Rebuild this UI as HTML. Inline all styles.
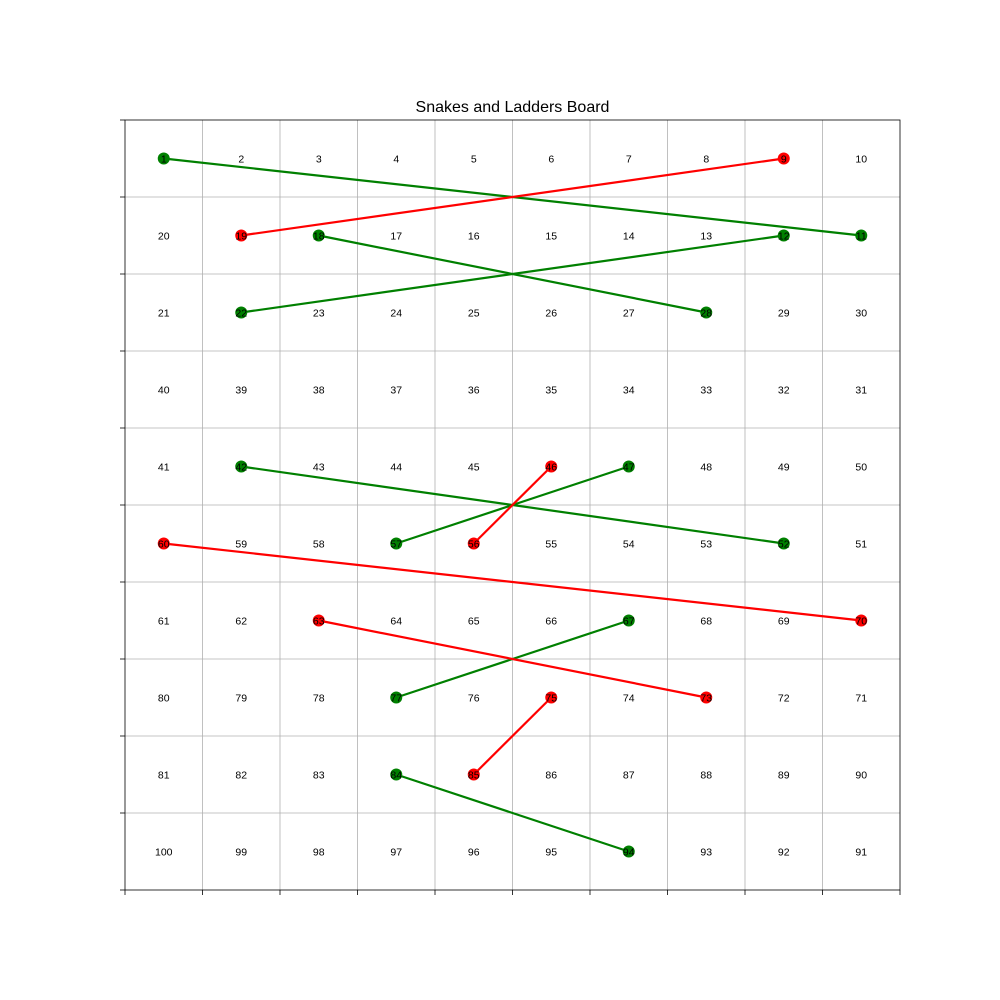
<!DOCTYPE html>
<html><head><meta charset="utf-8">
<style>
html,body{margin:0;padding:0;background:#fff;}
svg{display:block;font-family:"Liberation Sans","DejaVu Sans",sans-serif;}
</style></head>
<body>
<svg id="chart" width="1000" height="1000" viewBox="0 0 1000 1000">
<text x="512.5" y="112" text-anchor="middle" font-size="16">Snakes and Ladders Board</text>
</svg>
<script>
const ladders = [[1,11],[18,28],[22,12],[42,52],[57,47],[77,67],[84,94]];
const snakes = [[9,19],[46,56],[60,70],[63,73],[75,85]];
const boardSize = 10;

const X0=125, X1=900, Y0=120, Y1=890;
const sx = v => X0 + (X1-X0)*v/boardSize;
const sy = v => Y0 + (Y1-Y0)*v/boardSize;
const NS="http://www.w3.org/2000/svg";
const svg=document.getElementById('chart');
function mk(tag, attrs){const e=document.createElementNS(NS,tag);for(const k in attrs)e.setAttribute(k,attrs[k]);return e;}
function pos(n){const r=Math.floor((n-1)/boardSize);let c=(n-1)%boardSize;if(r%2===1)c=boardSize-1-c;return [c+0.5,r+0.5];}

const grid=mk('g',{});


svg.appendChild(grid);
for(let i=1;i<boardSize;i++){
  const v=mk('line',{x1:sx(i),x2:sx(i),y1:Y0,y2:Y1,stroke:'#b0b0b0','stroke-width':0.8});
  
  
  grid.appendChild(v);
  const h=mk('line',{x1:X0,x2:X1,y1:sy(i),y2:sy(i),stroke:'#b0b0b0','stroke-width':0.8});
  
  
  grid.appendChild(h);
}
const ticks=mk('g',{stroke:'#000','stroke-width':0.8});


svg.appendChild(ticks);
for(let i=0;i<=boardSize;i++){
  ticks.appendChild(mk('line',{x1:sx(i),x2:sx(i),y1:Y1,y2:Y1+5}));
  ticks.appendChild(mk('line',{x1:X0-5,x2:X0,y1:sy(i),y2:sy(i)}));
}
const frame=mk('rect',{x:X0,y:Y0,width:X1-X0,height:Y1-Y0,fill:'none',stroke:'#000','stroke-width':0.8});


svg.appendChild(frame);

function drawPairs(pairs,color,name){
  pairs.forEach(p=>{
    const a=pos(p[0]), b=pos(p[1]);
    const ln=mk('line',{x1:sx(a[0]),y1:sy(a[1]),x2:sx(b[0]),y2:sy(b[1]),stroke:color,'stroke-width':2.2});
    
    
    svg.appendChild(ln);
    [a,b].forEach(q=>{
      const c=mk('circle',{cx:sx(q[0]),cy:sy(q[1]),r:6,fill:color});
      
      
      svg.appendChild(c);
    });
  });
}
drawPairs(ladders,'#008000','ladder');
drawPairs(snakes,'#ff0000','snake');

for(let n=1;n<=boardSize*boardSize;n++){
  const p=pos(n);
  const t=mk('text',{x:sx(p[0]),y:sy(p[1])+4,'text-anchor':'middle','font-size':10.5,fill:'#000'});
  t.textContent=n;
  
  
  svg.appendChild(t);
}
</script>
</body></html>
